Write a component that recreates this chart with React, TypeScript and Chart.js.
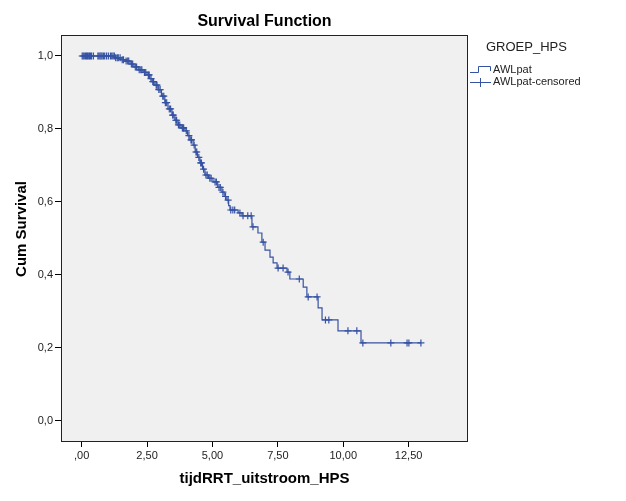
import React, { useEffect, useRef } from "react";
import { Chart, registerables } from "chart.js";

Chart.register(...registerables);

// Kaplan-Meier step points: event time and survival right after it
const eventTimes = [0, 1.28, 1.5, 1.66, 1.85, 2.0, 2.16, 2.35, 2.5, 2.6, 2.69, 2.8, 2.92, 3.05, 3.18, 3.3, 3.45, 3.56, 3.68, 3.8, 3.95, 4.05, 4.14, 4.26, 4.34, 4.43, 4.52, 4.62, 4.71, 4.85, 5.02, 5.2, 5.36, 5.45, 5.55, 5.62, 5.67, 5.98, 6.13, 6.51, 6.74, 6.89, 7.01, 7.2, 7.32, 7.47, 7.85, 7.96, 8.47, 8.61, 9.04, 9.19, 9.8, 10.68];
const survival = [1.0, 0.995, 0.99, 0.986, 0.978, 0.97, 0.962, 0.955, 0.948, 0.938, 0.93, 0.92, 0.908, 0.89, 0.872, 0.855, 0.838, 0.824, 0.811, 0.803, 0.795, 0.782, 0.77, 0.756, 0.737, 0.722, 0.707, 0.69, 0.674, 0.665, 0.655, 0.64, 0.627, 0.615, 0.605, 0.59, 0.578, 0.57, 0.562, 0.532, 0.515, 0.49, 0.468, 0.449, 0.433, 0.419, 0.408, 0.389, 0.367, 0.34, 0.31, 0.277, 0.247, 0.214];
// Censored observation times
const censorTimes = [0.02, 0.06, 0.1, 0.15, 0.19, 0.22, 0.27, 0.3, 0.34, 0.38, 0.45, 0.62, 0.66, 0.7, 0.74, 0.78, 0.83, 0.88, 0.95, 1.02, 1.1, 1.15, 1.2, 1.25, 1.3, 1.36, 1.4, 1.47, 1.55, 1.6, 1.7, 1.76, 1.8, 1.9, 1.95, 2.05, 2.1, 2.2, 2.26, 2.3, 2.4, 2.45, 2.55, 2.58, 2.65, 2.72, 2.75, 2.85, 2.88, 2.95, 3.0, 3.1, 3.14, 3.2, 3.25, 3.35, 3.4, 3.48, 3.5, 3.6, 3.63, 3.7, 3.75, 3.85, 3.88, 3.9, 4.0, 4.1, 4.18, 4.2, 4.3, 4.37, 4.4, 4.48, 4.55, 4.58, 4.66, 4.75, 4.8, 4.9, 4.95, 5.1, 5.15, 5.25, 5.3, 5.4, 5.5, 5.6, 5.7, 5.78, 5.85, 6.05, 6.17, 6.35, 6.48, 6.55, 6.94, 7.51, 7.7, 7.89, 8.32, 8.66, 9.0, 9.32, 9.45, 10.18, 10.52, 10.75, 11.82, 12.44, 12.51, 12.97];
const xTicks = [0, 2.5, 5, 7.5, 10, 12.5];
const yTicks = [0, 0.2, 0.4, 0.6, 0.8, 1.0];

const BLUE = "#3652a3";
const FONT = "Arial, 'Liberation Sans', sans-serif";

function survivalAt(t: number): number {
  let s = 1;
  for (let i = 0; i < eventTimes.length; i++) {
    if (eventTimes[i] <= t) s = survival[i];
  }
  return s;
}

export default function App() {
  const ref = useRef<HTMLCanvasElement>(null);
  useEffect(() => {
    document.body.style.margin = "0";
    const lastT = censorTimes[censorTimes.length - 1];
    const curve = eventTimes.map((t, i) => ({ x: t, y: survival[i] }));
    curve.push({ x: lastT, y: survival[survival.length - 1] });
    const cens = censorTimes.map((t) => ({ x: t, y: survivalAt(t) }));

    const deco = {
      id: "deco",
      beforeDraw(chart: any) {
        const { ctx, chartArea: a } = chart;
        ctx.save();
        ctx.fillStyle = "#ffffff";
        ctx.fillRect(0, 0, chart.width, chart.height);
        ctx.fillStyle = "#f0f0f0";
        ctx.fillRect(a.left, a.top, a.right - a.left, a.bottom - a.top);
        ctx.restore();
      },
      afterDraw(chart: any) {
        const { ctx, chartArea: a } = chart;
        ctx.save();
        ctx.strokeStyle = "#222";
        ctx.lineWidth = 1;
        ctx.strokeRect(a.left + 0.5, a.top + 0.5, a.right - a.left - 1, a.bottom - a.top);
        // title
        ctx.fillStyle = "#000";
        ctx.textAlign = "center";
        ctx.textBaseline = "middle";
        ctx.font = `bold 16px ${FONT}`;
        ctx.fillText("Survival Function", (a.left + a.right) / 2, 22);
        ctx.font = `bold 15px ${FONT}`;
        ctx.fillText("tijdRRT_uitstroom_HPS", (a.left + a.right) / 2, 479);
        ctx.save();
        ctx.translate(22, 229);
        ctx.rotate(-Math.PI / 2);
        ctx.fillText("Cum Survival", 0, 0);
        ctx.restore();
        // legend
        ctx.textAlign = "left";
        ctx.fillStyle = "#222";
        ctx.font = `13px ${FONT}`;
        ctx.fillText("GROEP_HPS", 486, 47);
        ctx.font = `11px ${FONT}`;
        ctx.fillText("AWLpat", 493, 70);
        ctx.fillText("AWLpat-censored", 493, 82);
        ctx.strokeStyle = BLUE;
        ctx.beginPath();
        ctx.moveTo(470, 72.5);
        ctx.lineTo(478.5, 72.5);
        ctx.lineTo(478.5, 66.5);
        ctx.lineTo(490.5, 66.5);
        ctx.lineTo(490.5, 71);
        ctx.moveTo(470, 82.5);
        ctx.lineTo(491, 82.5);
        ctx.moveTo(480.5, 78);
        ctx.lineTo(480.5, 87);
        ctx.stroke();
        ctx.restore();
      },
    };

    const chart = new Chart(ref.current!, {
      type: "line",
      data: {
        datasets: [
          {
            label: "AWLpat",
            data: curve,
            borderColor: BLUE,
            borderWidth: 1.2,
            pointRadius: 0,
            stepped: "before",
            fill: false,
          },
          {
            label: "AWLpat-censored",
            data: cens,
            showLine: false,
            pointStyle: "cross",
            pointRadius: 3.5,
            pointBorderWidth: 1.2,
            pointBorderColor: BLUE,
            pointBackgroundColor: BLUE,
            borderColor: BLUE,
          },
        ],
      },
      options: {
        responsive: false,
        animation: false,
        devicePixelRatio: 1,
        layout: { padding: { top: 35, right: 158, left: 0, bottom: 0 } },
        plugins: { legend: { display: false }, title: { display: false }, tooltip: { enabled: false } },
        scales: {
          x: {
            type: "linear",
            min: -0.79,
            max: 14.77,
            afterBuildTicks: (s: any) => { s.ticks = xTicks.map((v) => ({ value: v })); },
            afterFit: (s: any) => { s.height = 60; },
            border: { display: false },
            grid: { drawOnChartArea: false, drawTicks: true, tickLength: 6, color: "#000" },
            ticks: {
              padding: 2,
              color: "#222",
              font: { family: FONT, size: 11 },
              maxRotation: 0,
              callback: (v: any) => (v === 0 ? ",00" : Number(v).toFixed(2).replace(".", ",")),
            },
          },
          y: {
            type: "linear",
            min: -0.0548,
            max: 1.0575,
            afterBuildTicks: (s: any) => { s.ticks = yTicks.map((v) => ({ value: v })); },
            afterFit: (s: any) => { s.width = 61; },
            border: { display: false },
            grid: { drawOnChartArea: false, drawTicks: true, tickLength: 6, color: "#000" },
            ticks: {
              padding: 2,
              color: "#222",
              font: { family: FONT, size: 11 },
              callback: (v: any) => Number(v).toFixed(1).replace(".", ","),
            },
          },
        },
      },
      plugins: [deco],
    } as any);
    return () => chart.destroy();
  }, []);
  return (
    <div style={{ position: "absolute", left: 0, top: 0, width: 626, height: 501 }}>
      <canvas ref={ref} width={626} height={501} style={{ display: "block", width: 626, height: 501 }} />
    </div>
  );
}
